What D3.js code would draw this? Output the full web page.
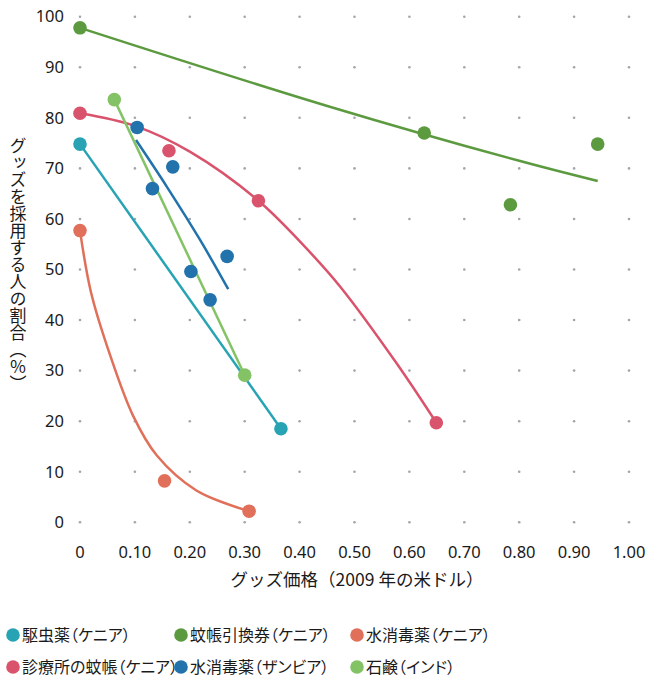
<!DOCTYPE html>
<html>
<head>
<meta charset="utf-8">
<script src="https://cdn.jsdelivr.net/npm/d3@7"></script>
<style>
  body { margin: 0; background: #fff; }
  text { font-family: "Noto Sans CJK JP", "Noto Sans", sans-serif; fill: #1a1a1a; }
</style>
</head>
<body>
<div id="chart"></div>
<script>
// series names (legend order)
const seriesNames = ["駆虫薬（ケニア）", "蚊帳引換券（ケニア）", "水消毒薬（ケニア）",
                     "診療所の蚊帳（ケニア）", "水消毒薬（ザンビア）", "石鹸（インド）"];
const seriesColors = ["#27a3b3", "#5c9a40", "#e0705a", "#d9536c", "#2272ac", "#84c266"];

// observed points [price, share%]
const pointsDeworm = [[0, 74.8], [0.366, 18.5]];
const pointsNetVoucher = [[0, 97.8], [0.627, 77.0], [0.784, 62.8], [0.943, 74.8]];
const pointsChlorKenya = [[0, 57.7], [0.154, 8.2], [0.308, 2.2]];
const pointsClinicNet = [[0, 80.9], [0.162, 73.5], [0.325, 63.6], [0.649, 19.7]];
const pointsChlorZambia = [[0.104, 78.1], [0.132, 66.0], [0.169, 70.3], [0.202, 49.6], [0.237, 44.0], [0.268, 52.6]];
const pointsSoap = [[0.0625, 83.6], [0.30, 29.1]];

// fitted curves
const fitDeworm = [[0, 74.8], [0.366, 18.5]];
const fitNetVoucher = [[0, 97.8], [0.455, 82.2], [0.8, 71.5], [0.943, 67.5]];
const fitChlorKenya = [[0, 57.7], [0.02, 45.5], [0.055, 33.0], [0.097, 21.0], [0.14, 13.2], [0.212, 6.3], [0.308, 2.2]];
const fitClinicNet = [[0, 80.9], [0.1, 78.4], [0.2, 73.3], [0.325, 63.6], [0.4, 55.6], [0.474, 46.6], [0.577, 31.4], [0.649, 19.7]];
const fitChlorZambia = [[0.102, 75.6], [0.158, 66.4], [0.219, 55.8], [0.270, 46.1]];
const fitSoap = [[0.0625, 83.6], [0.30, 29.1]];

const xTicks = [0, 0.1, 0.2, 0.3, 0.4, 0.5, 0.6, 0.7, 0.8, 0.9, 1.0];
const xTickLabels = ["0", "0.10", "0.20", "0.30", "0.40", "0.50", "0.60", "0.70", "0.80", "0.90", "1.00"];
const yTicks = [0, 10, 20, 30, 40, 50, 60, 70, 80, 90, 100];

const xTitle = "グッズ価格（2009 年の米ドル）";
const yTitle = "グッズを採用する人の割合（％）";

const series = [
  { points: pointsDeworm, fit: fitDeworm },
  { points: pointsNetVoucher, fit: fitNetVoucher },
  { points: pointsChlorKenya, fit: fitChlorKenya },
  { points: pointsClinicNet, fit: fitClinicNet },
  { points: pointsChlorZambia, fit: fitChlorZambia },
  { points: pointsSoap, fit: fitSoap }
];

const W = 664, H = 677;
const svg = d3.select("#chart").append("svg")
  .attr("width", W).attr("height", H);

const x = d3.scaleLinear().domain([0, 1]).range([80, 629]);
const y = d3.scaleLinear().domain([0, 100]).range([522.3, 16.7]);

// dotted grid
const grid = svg.append("g");
yTicks.forEach(yv => {
  grid.selectAll(null).data(xTicks).enter().append("circle")
    .attr("cx", d => x(d)).attr("cy", y(yv)).attr("r", 1.3)
    .attr("fill", "#a3a5ab");
});

// y tick labels
svg.append("g").selectAll("text").data(yTicks).enter().append("text")
  .attr("x", 64).attr("y", d => y(d)).attr("dy", "0.35em")
  .attr("text-anchor", "end")
  .style("font-family", "'Noto Sans', sans-serif")
  .style("font-size", "16.5px")
  .text(d => d);

// x tick labels
svg.append("g").selectAll("text").data(xTicks).enter().append("text")
  .attr("x", d => x(d)).attr("y", 552).attr("dy", "0.35em")
  .attr("text-anchor", "middle")
  .style("font-family", "'Noto Sans', sans-serif")
  .style("font-size", "16.5px")
  .text((d, i) => xTickLabels[i]);

// axis titles
svg.append("text")
  .attr("x", 357).attr("y", 586)
  .attr("text-anchor", "middle")
  .style("font-size", "17.5px")
  .text(xTitle);

svg.append("text")
  .attr("x", 18).attr("y", 265)
  .attr("text-anchor", "middle")
  .style("font-size", "17px")
  .style("writing-mode", "vertical-rl")
  .style("text-orientation", "mixed")
  .text(yTitle);

// fitted lines
const line = d3.line()
  .x(d => x(d[0])).y(d => y(d[1]))
  .curve(d3.curveCatmullRom.alpha(0.5));

svg.append("g").selectAll("path").data(series).enter().append("path")
  .attr("d", d => line(d.fit))
  .attr("fill", "none")
  .attr("stroke", (d, i) => seriesColors[i])
  .attr("stroke-width", 2.5);

// points
series.forEach((s, i) => {
  svg.append("g").selectAll("circle").data(s.points).enter().append("circle")
    .attr("cx", d => x(d[0])).attr("cy", d => y(d[1]))
    .attr("r", 6.8)
    .attr("fill", seriesColors[i]);
});

// legend
const legCols = [13, 181, 357];
const legRows = [635, 667];
const legend = svg.append("g").selectAll("g").data(seriesNames).enter().append("g")
  .attr("transform", (d, i) => "translate(" + legCols[i % 3] + "," + legRows[Math.floor(i / 3)] + ")");

legend.append("circle")
  .attr("r", 6.8)
  .attr("fill", (d, i) => seriesColors[i]);

legend.append("text")
  .attr("x", 9).attr("dy", "0.36em")
  .style("font-size", "16px")
  .style("font-feature-settings", "'palt'")
  .text(d => d);
</script>
</body>
</html>
